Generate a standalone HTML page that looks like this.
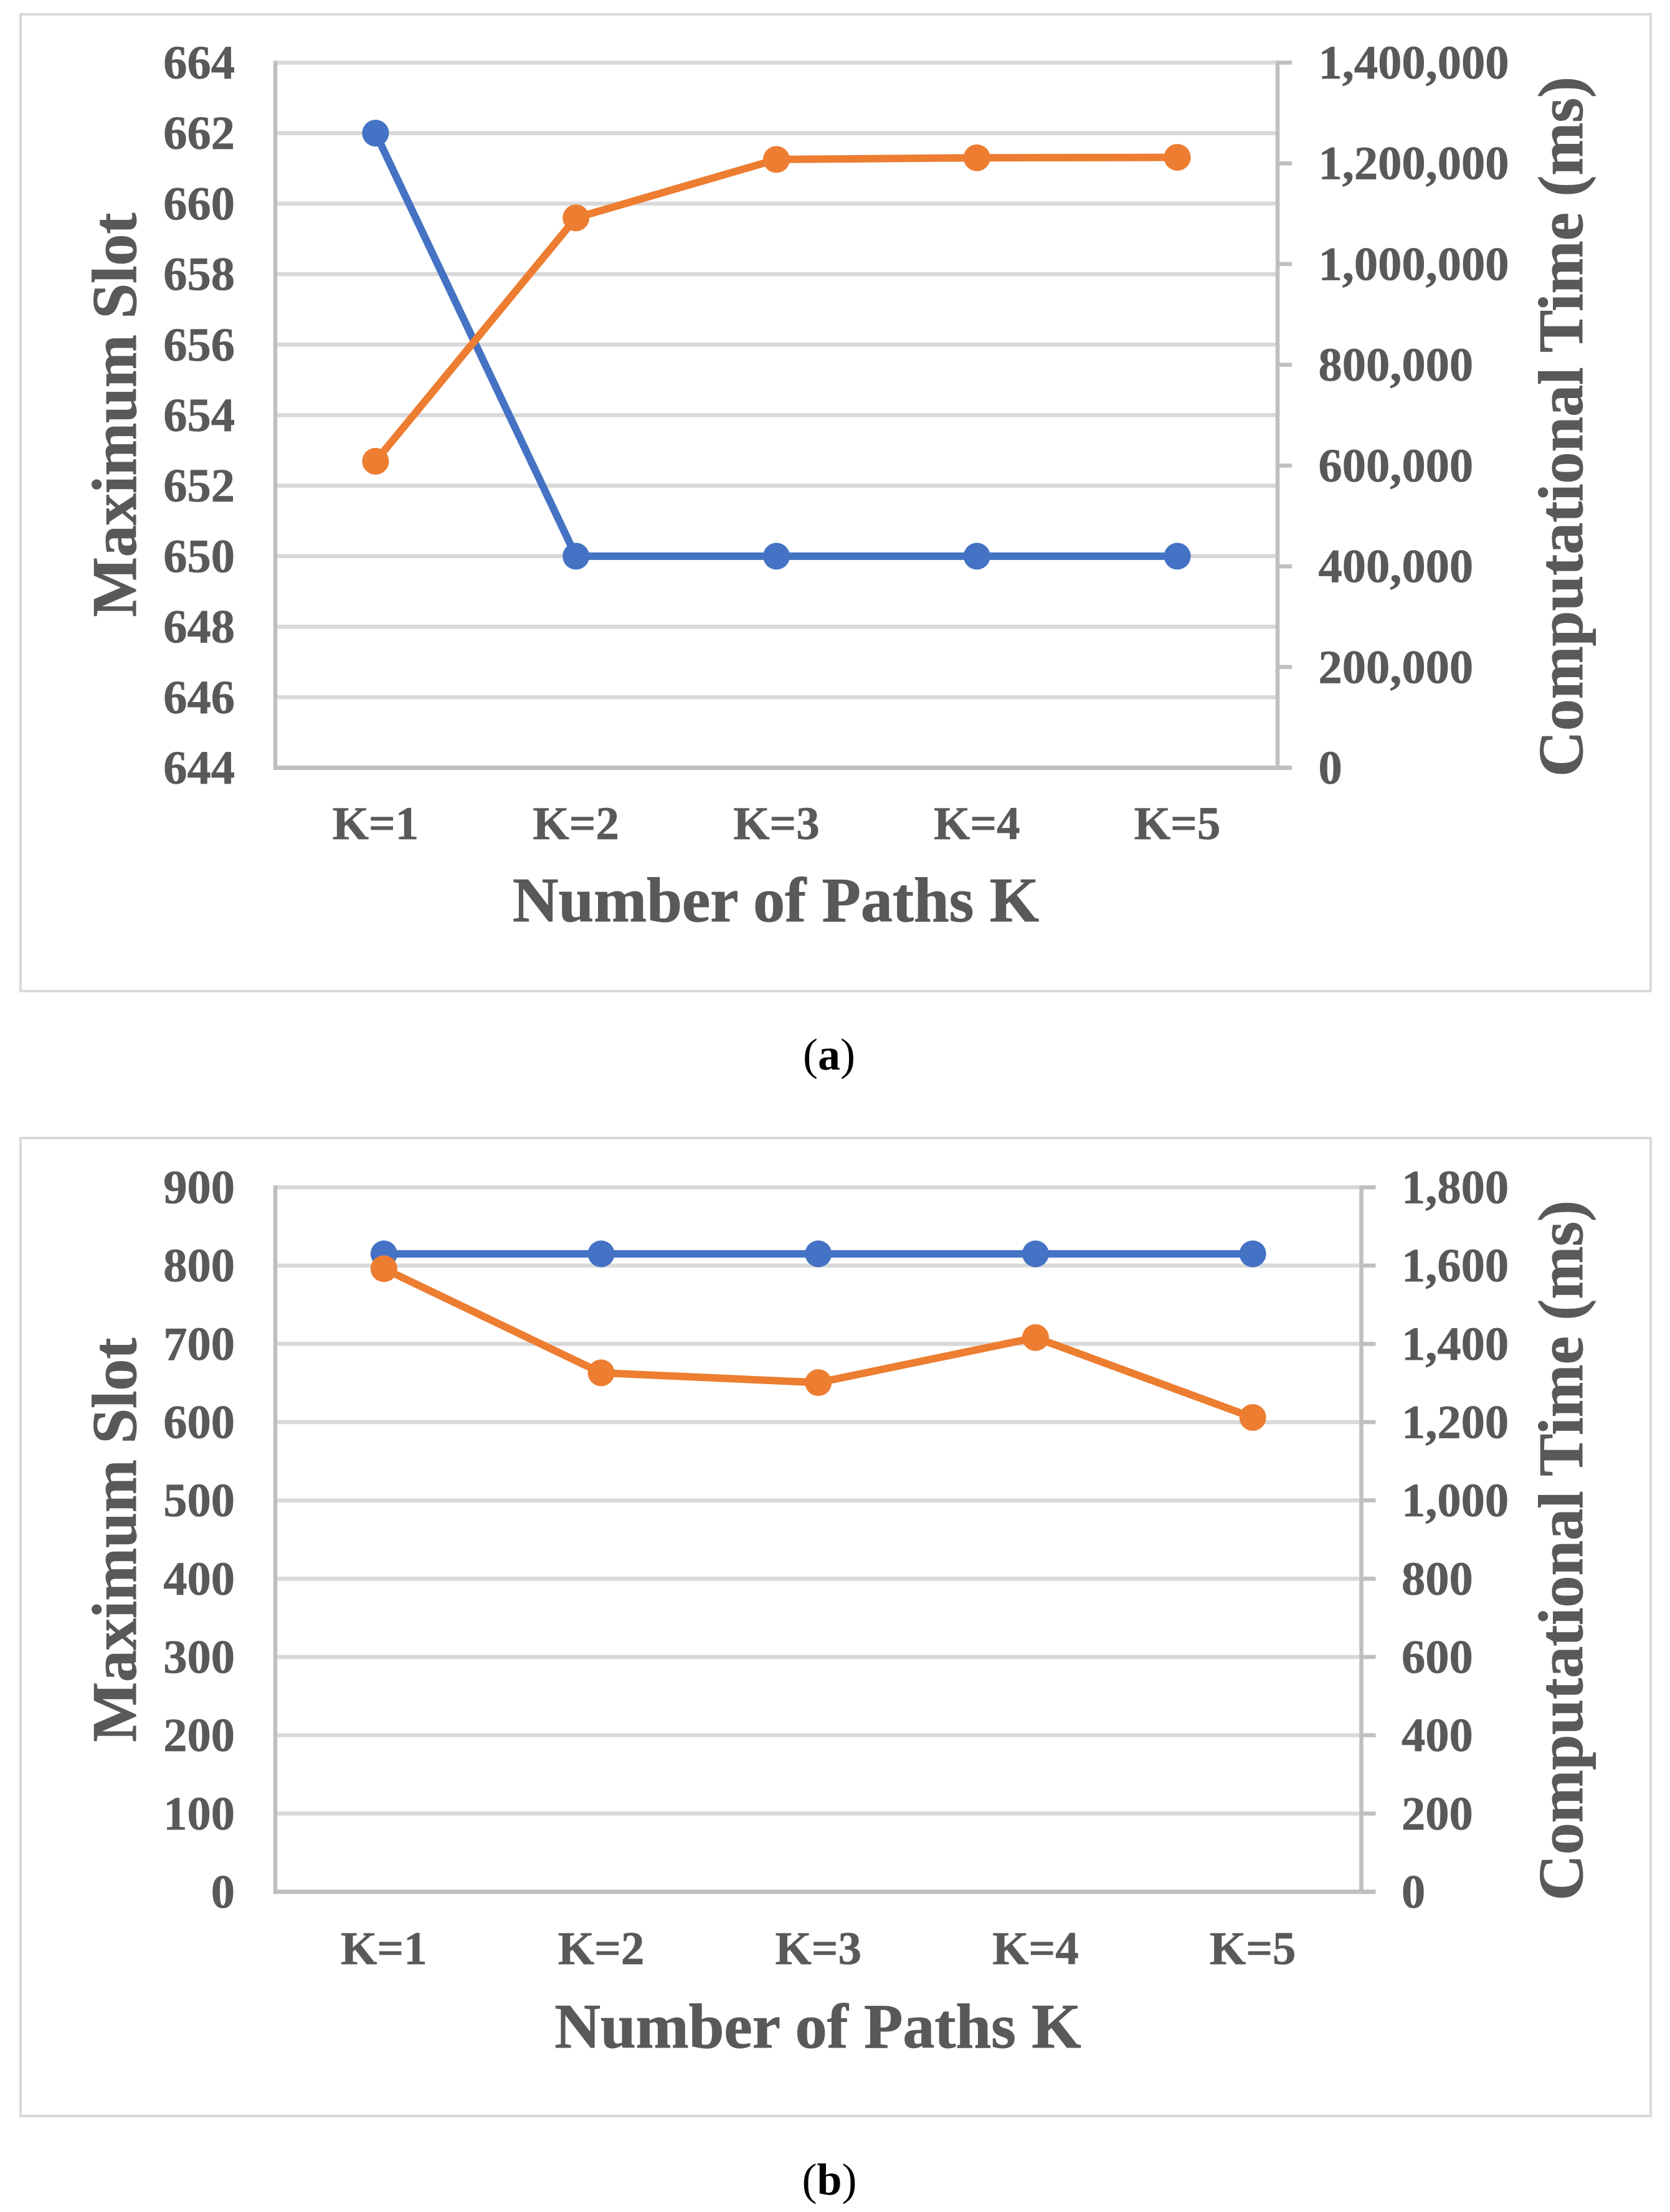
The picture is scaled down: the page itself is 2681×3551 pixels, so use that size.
<!DOCTYPE html>
<html lang="en">
<head>
<meta charset="utf-8">
<title>Maximum Slot and Computational Time vs Number of Paths K</title>
<style>
  html, body { margin: 0; padding: 0; background: #ffffff; }
  svg { display: block; }
  text { font-family: "Liberation Serif", serif; }
  .tick { font-size: 76.5px; font-weight: 700; fill: #595959; stroke: #595959; stroke-width: 0.7; }
  .cat { font-size: 75px; font-weight: 700; fill: #595959; stroke: #595959; stroke-width: 0.7; }
  .title { font-size: 102px; font-weight: 700; fill: #595959; stroke: #595959; stroke-width: 1; text-anchor: middle; }
  .caption { font-size: 72px; fill: #000000; text-anchor: middle; }
  .frame { fill: #ffffff; stroke: #d9d9d9; stroke-width: 4; }
</style>
</head>
<body>
<svg id="figure" xmlns="http://www.w3.org/2000/svg" width="2681" height="3551" viewBox="0 0 2681 3551">
  <rect x="0" y="0" width="2681" height="3551" fill="#ffffff"/>

  <g id="chart-a">
    <rect class="frame" x="33" y="23" width="2617" height="1568"/>
    <g id="chart-a-marks"></g>
    <text class="title" transform="translate(218 666) rotate(-90)">Maximum Slot</text>
    <text class="title" transform="translate(2540 685) rotate(-90)">Computational Time (ms)</text>
    <text class="title" x="1245.5" y="1479">Number of Paths K</text>
  </g>
  <text class="caption" x="1331" y="1717">(<tspan font-weight="700">a</tspan>)</text>

  <g id="chart-b">
    <rect class="frame" x="33" y="1827" width="2617" height="1570"/>
    <g id="chart-b-marks"></g>
    <text class="title" transform="translate(218 2472) rotate(-90)">Maximum Slot</text>
    <text class="title" transform="translate(2540 2489) rotate(-90)">Computational Time (ms)</text>
    <text class="title" x="1313" y="3287">Number of Paths K</text>
  </g>
  <text class="caption" x="1331.5" y="3523">(<tspan font-weight="700">b</tspan>)</text>
</svg>

<script>
// Chart (a) data
const categoriesA = ['K=1', 'K=2', 'K=3', 'K=4', 'K=5'];
const maxSlotA = [662, 650, 650, 650, 650];
const compTimeA = [608500, 1091800, 1207700, 1211000, 1211900];
const leftTicksA = [644, 646, 648, 650, 652, 654, 656, 658, 660, 662, 664];
const rightTicksA = [0, 200000, 400000, 600000, 800000, 1000000, 1200000, 1400000];
const rightTickLabelsA = ['0', '200,000', '400,000', '600,000', '800,000', '1,000,000', '1,200,000', '1,400,000'];

// Chart (b) data
const categoriesB = ['K=1', 'K=2', 'K=3', 'K=4', 'K=5'];
const maxSlotB = [815, 815, 815, 815, 815];
const compTimeB = [1592, 1326, 1301, 1416, 1212];
const leftTicksB = [0, 100, 200, 300, 400, 500, 600, 700, 800, 900];
const rightTicksB = [0, 200, 400, 600, 800, 1000, 1200, 1400, 1600, 1800];
const rightTickLabelsB = ['0', '200', '400', '600', '800', '1,000', '1,200', '1,400', '1,600', '1,800'];

const SVG_NS = 'http://www.w3.org/2000/svg';

function make(tag, props, parent, text) {
  const el = document.createElementNS(SVG_NS, tag);
  Object.keys(props).forEach(function (k) { el.setAttribute(k, props[k]); });
  if (text !== undefined) el.textContent = text;
  parent.appendChild(el);
  return el;
}

function drawChart(rootId, prefix, box, categories, slots, times, leftTicks, rightTicks, rightLabels) {
  const root = document.getElementById(rootId);
  const leftMin = leftTicks[0];
  const leftMax = leftTicks[leftTicks.length - 1];
  const rightMin = rightTicks[0];
  const rightMax = rightTicks[rightTicks.length - 1];

  const xScale = function (i) {
    return box.left + (box.right - box.left) * (i + 0.5) / categories.length;
  };
  const yLeft = function (v) {
    return box.bottom - (box.bottom - box.top) * (v - leftMin) / (leftMax - leftMin);
  };
  const yRight = function (v) {
    return box.bottom - (box.bottom - box.top) * (v - rightMin) / (rightMax - rightMin);
  };

  // Gridlines and left tick labels
  leftTicks.forEach(function (t) {
    if (t !== leftMin) {
      const grid = make('line', { x1: box.left, x2: box.right, y1: yLeft(t), y2: yLeft(t), stroke: '#d9d9d9', 'stroke-width': 6.5 }, root);
      
      
    }
    const label = make('text', { class: 'tick', x: 377, y: yLeft(t) + 25.5, 'text-anchor': 'end' }, root, String(t));
    
    
  });

  // Axes
  const leftAxis = make('line', { x1: box.left, x2: box.left, y1: box.top - 3, y2: box.bottom + 3, stroke: '#bfbfbf', 'stroke-width': 6.5 }, root);
  
  

  const rightAxis = make('line', { x1: box.right, x2: box.right, y1: box.top - 3, y2: box.bottom + 3, stroke: '#bfbfbf', 'stroke-width': 6.5 }, root);
  
  

  const bottomAxis = make('line', { x1: box.left - 3, x2: box.right + 23, y1: box.bottom, y2: box.bottom, stroke: '#bfbfbf', 'stroke-width': 7 }, root);
  
  

  // Right ticks and labels
  rightTicks.forEach(function (t, i) {
    const tick = make('line', { x1: box.right, x2: box.right + 23, y1: yRight(t), y2: yRight(t), stroke: '#bfbfbf', 'stroke-width': 6.5 }, root);
    
    
    const label = make('text', { class: 'tick', x: box.rightLabelX, y: yRight(t) + 25.5, 'text-anchor': 'start' }, root, rightLabels[i]);
    
    
  });

  // Category labels
  categories.forEach(function (c, i) {
    const label = make('text', { class: 'cat', x: xScale(i), y: box.catY, 'text-anchor': 'middle' }, root, c);
    
    
  });

  // Maximum slot series (left axis)
  const slotPoints = slots.map(function (v, i) { return xScale(i) + ',' + yLeft(v); }).join(' ');
  const slotLine = make('polyline', { points: slotPoints, fill: 'none', stroke: '#4472c4', 'stroke-width': 12, 'stroke-linejoin': 'round' }, root);
  
  
  slots.forEach(function (v, i) {
    const dot = make('circle', { cx: xScale(i), cy: yLeft(v), r: 21.5, fill: '#4472c4' }, root);
    
    
  });

  // Computational time series (right axis)
  const timePoints = times.map(function (v, i) { return xScale(i) + ',' + yRight(v); }).join(' ');
  const timeLine = make('polyline', { points: timePoints, fill: 'none', stroke: '#ed7d31', 'stroke-width': 12, 'stroke-linejoin': 'round' }, root);
  
  
  times.forEach(function (v, i) {
    const dot = make('circle', { cx: xScale(i), cy: yRight(v), r: 21.5, fill: '#ed7d31' }, root);
    
    
  });
}

drawChart('chart-a-marks', 'chart-a',
  { left: 442, right: 2051, top: 100.5, bottom: 1232.5, rightLabelX: 2116.5, catY: 1347 },
  categoriesA, maxSlotA, compTimeA, leftTicksA, rightTicksA, rightTickLabelsA);

drawChart('chart-b-marks', 'chart-b',
  { left: 442, right: 2185.5, top: 1906, bottom: 3037, rightLabelX: 2250, catY: 3153 },
  categoriesB, maxSlotB, compTimeB, leftTicksB, rightTicksB, rightTickLabelsB);
</script>
</body>
</html>
